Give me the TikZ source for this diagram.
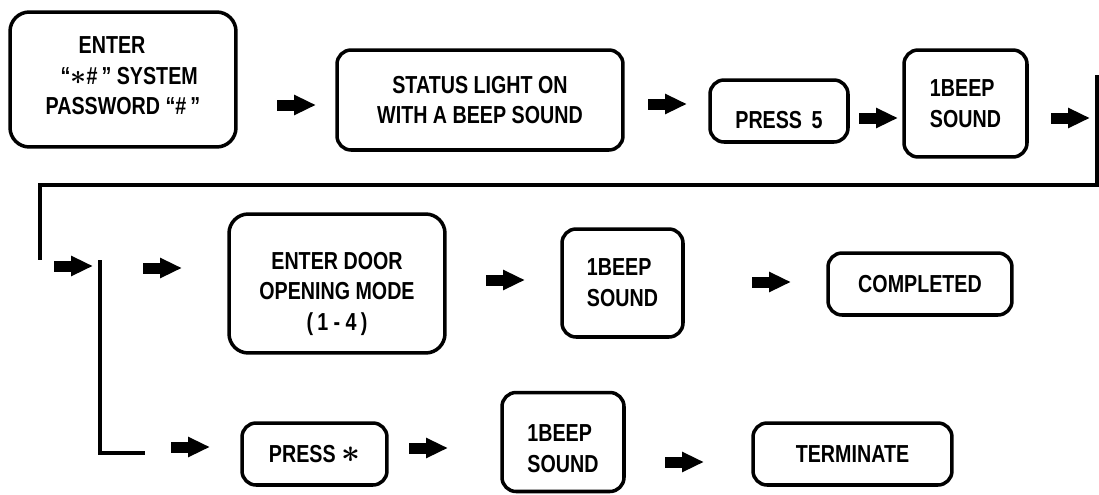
\documentclass[tikz,border=0pt]{standalone}
\usepackage{amsmath}
\usepackage{fontspec}
\usepackage{graphicx}
\usepackage{tikz}
\usetikzlibrary{arrows.meta}
\newfontfamily\narrowsans{Liberation Sans}[FakeStretch=0.8]
\newcommand{\keyast}[1]{\scalebox{#1}{$\boldsymbol{\ast}$}}

\begin{document}
\begin{tikzpicture}[x=0.02cm, y=-0.02cm,
  font=\narrowsans\bfseries\fontsize{14}{17.5}\selectfont,
  stepbox/.style={draw, line width=2pt, rounded corners=8pt, align=center, inner sep=0pt},
  blk/.style={line width=0.22cm, -{Triangle[length=0.44cm, width=0.38cm]}},
  wire/.style={line width=2pt}]
  \useasboundingbox (0,0) rectangle (1099,494);

  % first row
  \node[stepbox, rounded corners=11pt, align=left, text depth=4.5pt, minimum width=4.52cm, minimum height=2.70cm] (enter) at (123,79.5)
    {\hspace*{0.66cm}ENTER\\ \hspace*{0.3cm}“\keyast{1.1}\#\,” SYSTEM\\ PASSWORD “\#\,”};
  \node[stepbox, minimum width=5.72cm, minimum height=2.00cm] (status) at (480,100)
    {STATUS LIGHT ON\\ WITH A BEEP SOUND};
  \node[stepbox, text height=20pt, minimum width=2.76cm, minimum height=1.24cm] (press5) at (779,111) {PRESS~\,5};
  \node[stepbox, align=left, minimum width=2.46cm, minimum height=2.14cm] (beepA) at (965.5,103.5)
    {1BEEP\\ SOUND};

  % second row
  \node[stepbox, rounded corners=11pt, text height=56.5pt, minimum width=4.32cm, minimum height=2.78cm] (door) at (337,283.5)
    {ENTER DOOR\\ OPENING MODE\\ (\,1 - 4\,)};
  \node[stepbox, align=left, minimum width=2.42cm, minimum height=2.16cm] (beepB) at (622.5,283)
    {1BEEP\\ SOUND};
  \node[stepbox, minimum width=3.68cm, minimum height=1.24cm] (done) at (920,284) {COMPLETED};

  % third row
  \node[stepbox, minimum width=2.90cm, minimum height=1.24cm] (pressstar) at (314.5,454) {PRESS \keyast{1.3}};
  \node[stepbox, align=left, text height=35pt, minimum width=2.44cm, minimum height=1.98cm] (beepC) at (563,442)
    {1BEEP\\ SOUND};
  \node[stepbox, minimum width=3.98cm, minimum height=1.24cm] (term) at (852.5,454) {TERMINATE};

  % block arrows
  \coordinate (ar1) at (277,105);
  \coordinate (ar2) at (648,104);
  \coordinate (ar3) at (859,118);
  \coordinate (ar4) at (1051,118);
  \coordinate (ar5) at (54,266);
  \coordinate (ar6) at (143,268);
  \coordinate (ar7) at (171,447);
  \coordinate (ar8) at (486,280);
  \coordinate (ar9) at (752,282);
  \coordinate (ar10) at (409,448);
  \coordinate (ar11) at (665,462);
  \foreach \i in {1,...,11}
    \draw[blk] (ar\i) -- +(39,0);

  % return line and branch
  \coordinate (rtop) at (1097,75);
  \coordinate (ltop) at (40,185);
  \coordinate (lbot) at (40,260);
  \coordinate (btop) at (100,260);
  \coordinate (bend) at (145,453);
  \draw[wire] (rtop) |- (ltop) -- (lbot);
  \draw[wire] (btop) |- (bend);
\end{tikzpicture}
\end{document}
